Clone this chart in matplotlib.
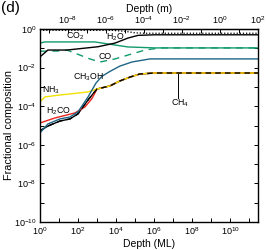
import numpy as np
import matplotlib
matplotlib.use('Agg')
from matplotlib import pyplot as plt
from matplotlib.ticker import FixedLocator, FuncFormatter, NullLocator

plt.rcParams['font.family'] = ['Liberation Sans', 'DejaVu Sans']
plt.rcParams['mathtext.fontset'] = 'custom'
plt.rcParams['mathtext.rm'] = 'Liberation Sans'
plt.rcParams['mathtext.it'] = 'Liberation Sans'
plt.rcParams['mathtext.default'] = 'regular'

# depth in ML (log10) and fractional composition (log10)
h2o_x = [0, 0.42, 1.42, 3.05, 3.95, 4.63, 5.16, 6.05, 11.47]
h2o_y = [-1.45, -1.09, -1.09, -0.92, -0.73, -0.47, -0.33, -0.30, -0.30]
co2_x = [0, 0.26, 2.89, 3.95, 4.63, 6.05, 11.47]
co2_y = [-0.73, -0.67, -0.67, -0.83, -0.93, -0.98, -0.98]
co_x = [0, 0.95, 1.42, 2.1, 2.63, 3.16, 3.95, 4.63, 5.53, 6.32, 11.47]
co_y = [-1.15, -1.14, -1.09, -1.35, -1.55, -1.71, -1.55, -1.35, -1.09, -0.98, -0.98]
ch3oh_x = [0, 0.42, 1.05, 1.58, 2.0, 2.53, 2.95, 3.26, 3.68, 4.21, 4.84, 5.79, 11.47]
ch3oh_y = [-5.39, -4.92, -4.66, -4.56, -4.30, -3.52, -2.80, -2.45, -2.20, -1.92, -1.71, -1.55, -1.55]
ch4_x = [0, 0.42, 1.05, 1.58, 2.0, 2.53, 3.0, 3.68, 4.21, 4.74, 5.26, 6.05, 11.47]
ch4_y = [-5.28, -5.03, -4.77, -4.66, -4.40, -3.68, -3.11, -2.95, -2.69, -2.49, -2.33, -2.28, -2.28]
h2co_x = [0, 0.79, 1.84, 2.37, 2.74, 3.0, 3.68, 4.21, 4.74, 5.26, 6.05, 11.47]
h2co_y = [-4.87, -4.61, -4.35, -4.04, -3.60, -3.11, -2.95, -2.69, -2.49, -2.33, -2.28, -2.28]
nh3_x = [0, 0.26, 1.05, 2.0, 2.53, 3.0, 3.68, 4.21, 4.74, 5.26, 6.05, 11.47]
nh3_y = [-3.78, -3.52, -3.42, -3.32, -3.26, -3.11, -2.95, -2.69, -2.49, -2.33, -2.28, -2.28]
tot_x = [0, 3.79, 4.47, 5.0, 5.53, 11.47]
tot_y = [-0.07, -0.07, -0.12, -0.20, -0.22, -0.22]

ml_to_m = 3.39e-10  # metres per monolayer

green = '#129a6e'
teal = '#1f6585'

def p(v):
    return 10.0 ** np.array(v)

fig = plt.figure(figsize=(2.66, 2.5), dpi=100)
ax = fig.add_axes([0.150, 0.112, 0.820, 0.772])

ax.plot(p(tot_x), p(tot_y), color='black', lw=0.9, ls=(0, (1, 1.5)))
ax.plot(p(co2_x), p(co2_y), color=green, lw=1.0)
ax.plot(p(co_x), p(co_y), color=green, lw=1.0, ls=(0, (5, 4)))
ax.plot(p(h2o_x), p(h2o_y), color='black', lw=1.0)
ax.plot(p(ch4_x), p(ch4_y), color='black', lw=1.0)
ax.plot(p(h2co_x), p(h2co_y), color='#e8231c', lw=1.0)
ax.plot(p(nh3_x), p(nh3_y), color='#f2e200', lw=1.0)
ax.plot(p(ch4_x), p(ch4_y), color='black', lw=1.0, ls=(0, (4, 3)))
ax.plot(p(ch3oh_x), p(ch3oh_y), color=teal, lw=1.0)

ax.set_xscale('log')
ax.set_yscale('log')
ax.set_xlim(1, 100 / ml_to_m)
ax.set_ylim(1e-10, 1)

fs = 6.5
ax.xaxis.set_major_locator(FixedLocator(10.0 ** np.arange(0, 12)))
ax.yaxis.set_major_locator(FixedLocator(10.0 ** np.arange(-10, 1)))
ax.xaxis.set_minor_locator(NullLocator())
ax.yaxis.set_minor_locator(NullLocator())
even = lambda v, pos: ('$10^{%d}$' % round(np.log10(v))) if round(np.log10(v)) % 2 == 0 else ''
ax.xaxis.set_major_formatter(FuncFormatter(even))
ax.yaxis.set_major_formatter(FuncFormatter(even))
ax.tick_params(which='both', direction='in', length=3, width=0.7, labelsize=fs, right=True, pad=2.5)

top = ax.secondary_xaxis('top', functions=(lambda x: x * ml_to_m, lambda m: m / ml_to_m))
top.xaxis.set_major_locator(FixedLocator(10.0 ** np.arange(-9, 3)))
top.xaxis.set_minor_locator(NullLocator())
top.xaxis.set_major_formatter(FuncFormatter(even))
top.tick_params(direction='in', length=3, width=0.7, labelsize=fs, pad=2)
top.set_xlabel('Depth (m)', fontsize=7.5, labelpad=2)

for s in ax.spines.values():
    s.set_linewidth(1.0)

ax.set_xlabel('Depth (ML)', fontsize=7.5, labelpad=1)
ax.set_ylabel('Fractional composition', fontsize=7.8, labelpad=0)

lf = 6.3
ax.text(10 ** 1.84, 10 ** -0.40, 'CO$_2$', fontsize=lf, ha='center', va='center')
ax.text(10 ** 3.95, 10 ** -0.42, 'H$_2$O', fontsize=lf, ha='center', va='center')
ax.text(10 ** 3.42, 10 ** -1.45, 'CO', fontsize=lf, ha='center', va='center')
ax.text(10 ** 2.53, 10 ** -2.48, 'CH$_3$OH', fontsize=lf, ha='center', va='center')
ax.text(10 ** 0.58, 10 ** -3.15, 'NH$_3$', fontsize=lf, ha='center', va='center')
ax.text(10 ** 0.95, 10 ** -4.28, 'H$_2$CO', fontsize=lf, ha='center', va='center')
ax.text(10 ** 7.35, 10 ** -3.85, 'CH$_4$', fontsize=lf, ha='center', va='center')
ax.plot([10 ** 7.26, 10 ** 7.26], [10 ** -2.31, 10 ** -3.55], color='black', lw=0.7)

fig.text(0.005, 0.995, '(d)', fontsize=11, ha='left', va='top')

fig.savefig('out.png', dpi=100)
